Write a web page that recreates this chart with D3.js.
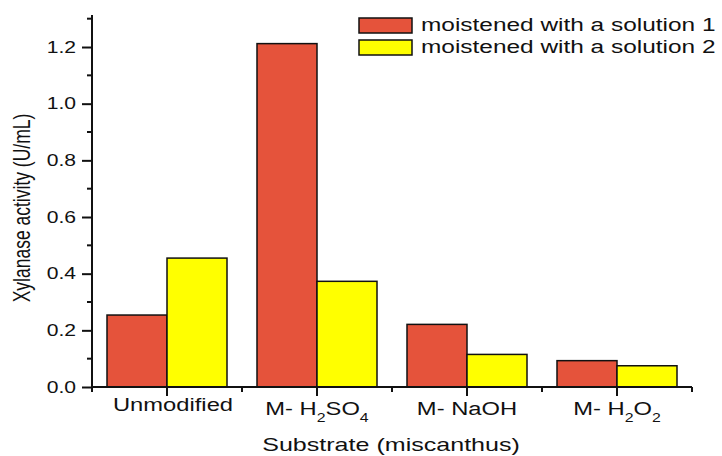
<!DOCTYPE html>
<html>
<head>
<meta charset="utf-8">
<script src="https://cdn.jsdelivr.net/npm/d3@7"></script>
<style>
  body { margin: 0; background: #fff; }
  text { font-family: "Liberation Sans", Arial, sans-serif; fill: #111; }
</style>
</head>
<body>
<div id="canvas"></div>
<script>
"use strict";

// data
const categories = ["Unmodified", "M- H2SO4", "M- NaOH", "M- H2O2"];
const seriesNames = ["moistened with a solution 1", "moistened with a solution 2"];
const solution1 = [0.254, 1.212, 0.221, 0.093];
const solution2 = [0.455, 0.373, 0.115, 0.075];
const yTicks = [0, 0.2, 0.4, 0.6, 0.8, 1.0, 1.2];

// category labels with subscripts: [text, isSub]
const labelParts = [
  [["Unmodified", false]],
  [["M- H", false], ["2", true], ["SO", false], ["4", true]],
  [["M- NaOH", false]],
  [["M- H", false], ["2", true], ["O", false], ["2", true]]
];

const colors = ["#e5533b", "#ffff00"];

const svgWidth = 722, svgHeight = 456;
const plotLeft = 92, plotRight = 692, plotTop = 15, plotBottom = 387;
const sx = 1.32; // the original's text is wide, stretch it horizontally

const svg = d3.select("#canvas").append("svg")
  .attr("width", svgWidth)
  .attr("height", svgHeight);

const x = d3.scaleBand()
  .domain(categories)
  .range([plotLeft, plotRight])
  .paddingInner(0.2)
  .paddingOuter(0.1);

const xSub = d3.scaleBand()
  .domain([0, 1])
  .range([0, x.bandwidth()]);

const y = d3.scaleLinear()
  .domain([0, 1.313])
  .range([plotBottom, plotTop]);

// bars
const rows = categories.map((c, i) => ({ cat: c, vals: [solution1[i], solution2[i]] }));
const groups = svg.selectAll("g.grp")
  .data(rows)
  .enter().append("g")
  .attr("transform", d => `translate(${x(d.cat)},0)`);

groups.selectAll("rect")
  .data(d => d.vals.map((v, k) => ({ v, k })))
  .enter().append("rect")
  .attr("x", d => xSub(d.k))
  .attr("y", d => y(d.v))
  .attr("width", xSub.bandwidth())
  .attr("height", d => plotBottom - y(d.v))
  .attr("fill", d => colors[d.k])
  .attr("stroke", "#111")
  .attr("stroke-width", 1.5);

// y axis
const yAxisG = svg.append("g").attr("transform", `translate(${plotLeft},0)`);
yAxisG.call(d3.axisLeft(y).tickValues(yTicks).tickFormat(d3.format(".1f")).tickSize(10).tickPadding(6));
// minor y ticks
yAxisG.selectAll("line.minor")
  .data(d3.range(0.1, 1.31, 0.2))
  .enter().append("line")
  .attr("x1", -5).attr("x2", 0)
  .attr("y1", d => y(d)).attr("y2", d => y(d));

// x axis
const xAxisG = svg.append("g").attr("transform", `translate(0,${plotBottom})`);
xAxisG.call(d3.axisBottom(x).tickSize(9).tickFormat(""));
xAxisG.selectAll("line.minor")
  .data(d3.range(0, categories.length + 1))
  .enter().append("line")
  .attr("x1", i => plotLeft + i * x.step())
  .attr("x2", i => plotLeft + i * x.step())
  .attr("y1", 0).attr("y2", 5);

[yAxisG, xAxisG].forEach(g => {
  g.select(".domain").attr("stroke", "#111").attr("stroke-width", 2);
  g.selectAll("line").attr("stroke", "#111").attr("stroke-width", 2);
});
xAxisG.select(".domain").attr("d", `M${plotLeft},0H${plotRight}`);
yAxisG.select(".domain").attr("d", `M0,${plotBottom}V${plotTop}`);
yAxisG.selectAll("text")
  .attr("font-size", 16)
  .attr("font-family", "Liberation Sans, Arial, sans-serif")
  .attr("fill", "#111")
  .attr("x", function () { return +d3.select(this).attr("x") / sx; })
  .attr("transform", `scale(${sx},1)`);

// category labels (the first one sits a little higher and to the right in the original)
categories.forEach((c, i) => {
  const baseY = i === 0 ? 411 : 415;
  const shift = i === 0 ? 6 : 0;
  const t = svg.append("text")
    .attr("transform", `translate(${x(c) + x.bandwidth() / 2 + shift},${baseY}) scale(${sx},1)`)
    .attr("text-anchor", "middle")
    .attr("font-size", 18);
  labelParts[i].forEach((p, j) => {
    const s = t.append("tspan").text(p[0]);
    if (p[1]) s.attr("font-size", 12).attr("dy", 7);
    else if (j > 0) s.attr("dy", -7);
  });
});

// axis titles
svg.append("text")
  .attr("transform", `translate(391,451) scale(${sx},1)`)
  .attr("text-anchor", "middle")
  .attr("font-size", 19)
  .text("Substrate (miscanthus)");

svg.append("text")
  .attr("transform", `translate(30,208) scale(${sx},1) rotate(-90)`)
  .attr("text-anchor", "middle")
  .attr("font-size", 17.5)
  .text("Xylanase activity (U/mL)");

// legend
const legend = svg.append("g").attr("transform", "translate(359,18)");
seriesNames.forEach((n, i) => {
  legend.append("rect")
    .attr("x", 0).attr("y", i * 22)
    .attr("width", 53).attr("height", 15)
    .attr("fill", colors[i])
    .attr("stroke", "#111").attr("stroke-width", 1.5);
  legend.append("text")
    .attr("transform", `translate(62,${i * 22 + 13}) scale(${sx},1)`)
    .attr("font-size", 18.5)
    .text(n);
});
</script>
</body>
</html>
